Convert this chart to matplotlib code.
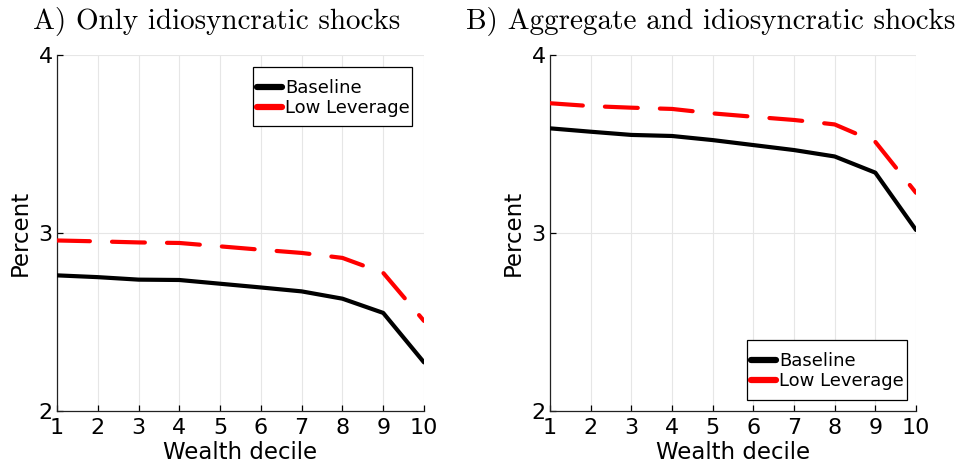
import matplotlib
matplotlib.use("Agg")
import matplotlib.pyplot as plt
from matplotlib.lines import Line2D
from matplotlib.patches import Rectangle

deciles = [1, 2, 3, 4, 5, 6, 7, 8, 9, 10]
xtick_labels = ["1", "2", "3", "4", "5", "6", "7", "8", "9", "10"]
yticks = [2, 3, 4]

a_baseline = [2.762, 2.752, 2.738, 2.736, 2.715, 2.694, 2.672, 2.631, 2.551, 2.273]
a_lowlev = [2.958, 2.953, 2.947, 2.944, 2.925, 2.906, 2.888, 2.860, 2.776, 2.506]

b_baseline = [3.588, 3.569, 3.551, 3.545, 3.522, 3.494, 3.466, 3.430, 3.339, 3.017]
b_lowlev = [3.729, 3.713, 3.704, 3.697, 3.672, 3.653, 3.635, 3.610, 3.512, 3.226]

titles = ["A) Only idiosyncratic shocks", "B) Aggregate and idiosyncratic shocks"]
series_names = ["Baseline", "Low Leverage"]

fig = plt.figure(figsize=(9.56, 4.63), dpi=100)
W, H = 956, 463

def px_axes(l, r, t, b):
    return [l / W, 1 - b / H, (r - l) / W, (b - t) / H]

ax_a = fig.add_axes(px_axes(57, 424, 55, 411))
ax_b = fig.add_axes(px_axes(550, 916, 55, 411))

# legend boxes in pixel coords: (left, top, right, bottom)
legend_boxes = [(253, 67, 412, 126), (747, 340, 907, 400)]

for ax, base, low, box in [(ax_a, a_baseline, a_lowlev, legend_boxes[0]),
                           (ax_b, b_baseline, b_lowlev, legend_boxes[1])]:
    ax.plot(deciles, base, color="black", lw=3.0, solid_capstyle="round", zorder=3)
    ax.plot(deciles, low, color="#ff0000", lw=3.0, linestyle=(0, (7.9, 5.3)),
            dash_capstyle="round", zorder=3)
    ax.set_xlim(1, 10)
    ax.set_ylim(2, 4)
    ax.set_xticks(deciles)
    ax.set_xticklabels(xtick_labels)
    ax.set_yticks(yticks)
    ax.grid(True, color="#e6e6e6", lw=0.8, zorder=0)
    for s in ["top", "right"]:
        ax.spines[s].set_visible(False)
    for s in ["left", "bottom"]:
        ax.spines[s].set_linewidth(0.9)
        ax.spines[s].set_color("#222222")
    ax.tick_params(direction="in", length=4, width=0.9, labelsize=16)
    ax.tick_params(axis="x", pad=5)
    ax.tick_params(axis="y", pad=3)
    ax.set_xlabel("Wealth decile", fontsize=16.5, labelpad=2)
    ax.set_ylabel("Percent", fontsize=16.5, labelpad=5)

    l, t, r, b = box
    rect = Rectangle((l / W, 1 - b / H), (r - l) / W, (b - t) / H,
                     transform=fig.transFigure, facecolor="white",
                     edgecolor="black", lw=0.9, zorder=4, clip_on=False)
    ax.add_patch(rect)
    handles = [Line2D([0], [0], color="black", lw=4.5, solid_capstyle="round"),
               Line2D([0], [0], color="#ff0000", lw=4.5, solid_capstyle="round")]
    leg = ax.legend(handles, series_names, loc="upper left",
                    bbox_to_anchor=((l + 4) / W, 1 - (t + 12.0) / H),
                    bbox_transform=fig.transFigure, fontsize=13, frameon=False,
                    handlelength=1.38, handletextpad=0.16, borderpad=0,
                    labelspacing=0.12, borderaxespad=0)
    leg.set_zorder(6)

fig.text(217 / W, 1 - 21 / H, titles[0], fontsize=21, family="cmr10",
         ha="center", va="center")
fig.text(711 / W, 1 - 21 / H, titles[1], fontsize=21, family="cmr10",
         ha="center", va="center")

fig.savefig("out.png", dpi=100)
